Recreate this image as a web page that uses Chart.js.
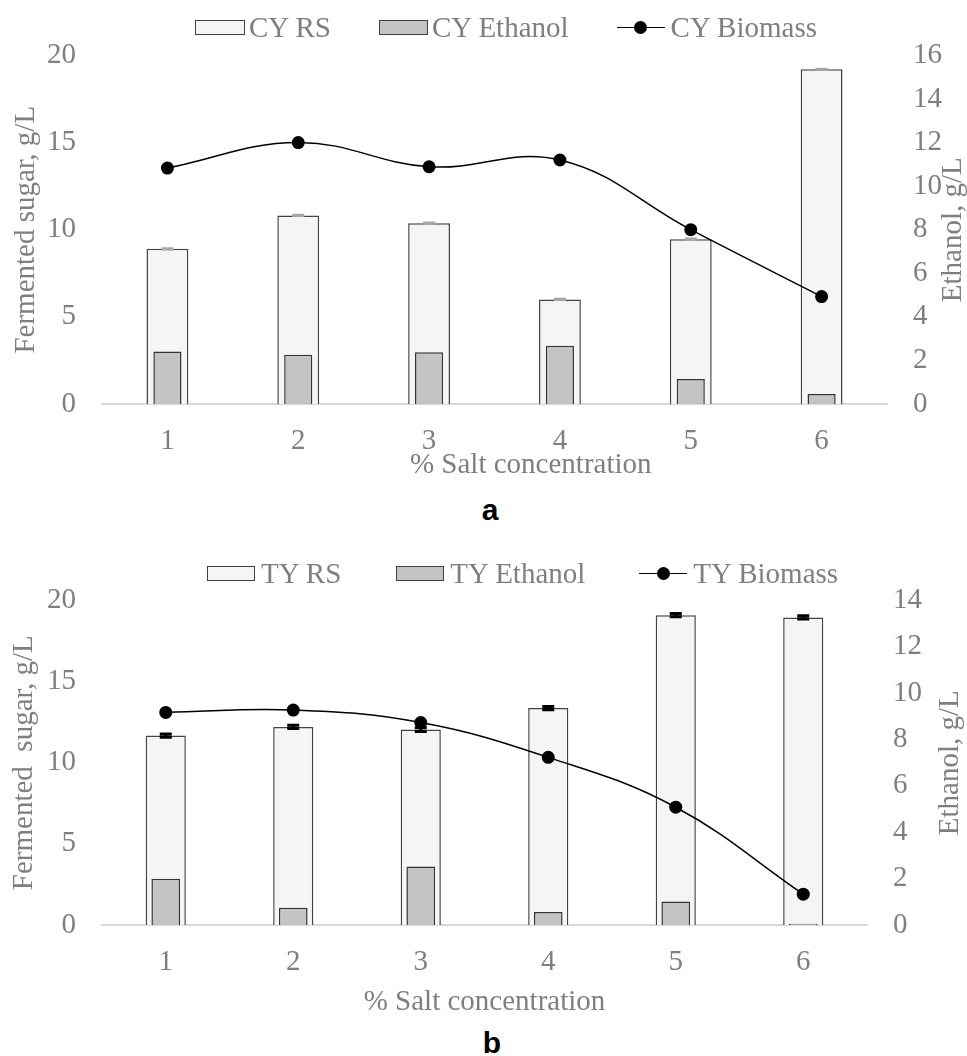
<!DOCTYPE html>
<html>
<head>
<meta charset="utf-8">
<script src="https://cdn.jsdelivr.net/npm/chart.js@4.4.1/dist/chart.umd.min.js"></script>
<style>
  html, body { margin: 0; padding: 0; background: #fff; }
  body { position: relative; width: 967px; height: 1056px; overflow: hidden;
         font-family: "Liberation Serif", "Times New Roman", Times, "DejaVu Serif", serif; }
  canvas { position: absolute; left: 0; }
  #chart-a { top: 12px; }
  #chart-b { top: 557px; }
  .legend { position: absolute; display: flex; align-items: center; height: 34px;
            font-size: 29px; color: #7f7f7f; white-space: pre; z-index: 2; }
  .legend .item { display: flex; align-items: center; }
  .legend .sw { box-sizing: border-box; height: 15px; border: 1.5px solid #404040; }
  .legend .ln { position: relative; height: 15px; }
  .legend .ln::before { content: ''; position: absolute; left: 0; right: 0; top: 7px;
                        height: 1.5px; background: #000; }
  .legend .ln::after { content: ''; position: absolute; left: 50%; top: 1px; width: 13px;
                       height: 13px; margin-left: -6.5px; border-radius: 50%; background: #000; }
  .tag { position: absolute; font: bold 30px "Liberation Sans", Arial, sans-serif;
         color: #000; transform: translate(-50%, -50%); }
</style>
</head>
<body>
<canvas id="chart-a" width="967" height="468"></canvas>
<div class="legend" id="legend-a" style="left:195px; top:10px;">
  <div class="item" style="margin-right:48px"><div class="sw" style="width:50px; background:#f4f6f5"></div><span style="margin-left:4px">CY RS</span></div>
  <div class="item" style="margin-right:48px"><div class="sw" style="width:49px; background:#c4c4c4"></div><span style="margin-left:4px">CY Ethanol</span></div>
  <div class="item"><div class="ln" style="width:48px"></div><span style="margin-left:6px">CY Biomass</span></div>
</div>
<div class="tag" style="left:490px; top:510px;">a</div>

<canvas id="chart-b" width="967" height="460"></canvas>
<div class="legend" id="legend-b" style="left:207px; top:556px;">
  <div class="item" style="margin-right:55px"><div class="sw" style="width:48px; background:#f4f6f5"></div><span style="margin-left:6px">TY RS</span></div>
  <div class="item" style="margin-right:54px"><div class="sw" style="width:48px; background:#c4c4c4"></div><span style="margin-left:6px">TY Ethanol</span></div>
  <div class="item"><div class="ln" style="width:48px"></div><span style="margin-left:6px">TY Biomass</span></div>
</div>
<div class="tag" style="left:492px; top:1043px;">b</div>

<script>
// x categories (% salt)
const saltLevels = ['1', '2', '3', '4', '5', '6'];

// panel a (CY)
const cyRS        = [8.9, 10.82, 10.37, 6.0, 9.45, 19.2];
const cyRSErr     = [0.04, 0.04, 0.04, 0.04, 0.04, 0.04];
const cyEthanol   = [2.41, 2.26, 2.38, 2.67, 1.15, 0.46];
const cyBiomass   = [10.83, 12.0, 10.89, 11.2, 8.0, 4.93];

// panel b (TY)
const tyRS        = [11.67, 12.2, 12.04, 13.37, 19.09, 18.95];
const tyRSErr     = [0.1, 0.1, 0.12, 0.1, 0.1, 0.1];
const tyEthanol   = [2.0, 0.74, 2.52, 0.56, 1.01, 0.05];
const tyBiomass   = [9.17, 9.27, 8.73, 7.23, 5.08, 1.33];

// axis ranges / ticks
const leftTicks   = { min: 0, max: 20, step: 5 };
const rightTicksA = { min: 0, max: 16, step: 2 };
const rightTicksB = { min: 0, max: 14, step: 2 };

const GREY  = '#7f7f7f';
const SERIF = '"Liberation Serif", "Times New Roman", Times, "DejaVu Serif", serif';

// error bars drawn right after the RS bars
const errorBars = {
  id: 'errorBars',
  afterDatasetDraw(chart, args, opts) {
    if (args.index !== 0 || !opts.errors) return;
    const ctx   = chart.ctx;
    const scale = chart.scales.y;
    const vals  = chart.data.datasets[0].data;
    ctx.save();
    ctx.strokeStyle = opts.color;
    ctx.lineWidth   = opts.width;
    args.meta.data.forEach((bar, i) => {
      const hi = scale.getPixelForValue(vals[i] + opts.errors[i]);
      const lo = scale.getPixelForValue(vals[i] - opts.errors[i]);
      ctx.beginPath();
      ctx.moveTo(bar.x, hi);            ctx.lineTo(bar.x, lo);
      ctx.moveTo(bar.x - opts.cap, hi); ctx.lineTo(bar.x + opts.cap, hi);
      ctx.moveTo(bar.x - opts.cap, lo); ctx.lineTo(bar.x + opts.cap, lo);
      ctx.stroke();
    });
    ctx.restore();
  }
};

// right axis title reads bottom-to-top like the Excel original
const rightTitle = {
  id: 'rightTitle',
  afterDraw(chart, args, opts) {
    const { ctx, chartArea } = chart;
    ctx.save();
    ctx.translate(opts.x, (chartArea.top + chartArea.bottom) / 2);
    ctx.rotate(-Math.PI / 2);
    ctx.font = '29px ' + SERIF;
    ctx.fillStyle = GREY;
    ctx.textAlign = 'center';
    ctx.textBaseline = 'middle';
    ctx.fillText(opts.text, 0, 0);
    ctx.restore();
  }
};

function makeChart(id, p) {
  const ctx = document.getElementById(id).getContext('2d');
  return new Chart(ctx, {
    type: 'bar',
    data: {
      labels: saltLevels,
      datasets: [
        {
          label: p.names[0],
          data: p.rs,
          yAxisID: 'y',
          grouped: false,
          order: 2,
          backgroundColor: '#f4f6f5',
          borderColor: '#444',
          borderWidth: 1.5,
          categoryPercentage: 1,
          barPercentage: p.rsWidth,
        },
        {
          label: p.names[1],
          data: p.eth,
          yAxisID: 'y1',
          grouped: false,
          order: 1,
          backgroundColor: '#c4c4c4',
          borderColor: '#333',
          borderWidth: 1.5,
          categoryPercentage: 1,
          barPercentage: p.ethWidth,
        },
        {
          type: 'line',
          label: p.names[2],
          data: p.bio,
          yAxisID: 'y1',
          order: 0,
          borderColor: '#000',
          borderWidth: 1.5,
          tension: 0.4,
          pointRadius: 6.5,
          pointBackgroundColor: '#000',
          pointBorderWidth: 0,
        },
      ],
    },
    options: {
      responsive: false,
      animation: false,
      layout: { padding: 0 },
      plugins: {
        legend:  { display: false },
        tooltip: { enabled: false },
        errorBars: p.err,
        rightTitle: { text: 'Ethanol, g/L', x: p.y1TitleX },
      },
      scales: {
        x: {
          grid:   { display: false, drawTicks: false },
          border: { display: true, color: '#d9d9d9', width: 2 },
          ticks:  { color: GREY, padding: 20, font: { family: SERIF, size: 29 } },
          title:  {
            display: true, text: p.xTitle, color: GREY,
            padding: 0, font: { family: SERIF, size: 29, lineHeight: 1.0 },
          },
          afterFit: s => { s.height = p.xHeight; },
        },
        y: {
          position: 'left',
          min: leftTicks.min, max: leftTicks.max,
          grid:   { display: false, drawTicks: false },
          border: { display: false },
          ticks:  { stepSize: leftTicks.step, color: GREY, padding: 26, font: { family: SERIF, size: 29 } },
          title:  {
            display: true, text: p.yTitle, color: GREY,
            padding: { top: p.yTitlePad, bottom: 0 }, font: { family: SERIF, size: 29, lineHeight: 1.0 },
          },
          afterFit: s => { s.width = 102; },
        },
        y1: {
          position: 'right',
          min: p.right.min, max: p.right.max,
          grid:   { display: false, drawTicks: false },
          border: { display: false },
          ticks:  { stepSize: p.right.step, color: GREY, padding: 26, font: { family: SERIF, size: 29 } },
          afterFit: s => { s.width = p.rightWidth; },
        },
      },
    },
    plugins: [errorBars, rightTitle],
  });
}

makeChart('chart-a', {
  names: ['CY RS', 'CY Ethanol', 'CY Biomass'],
  rs: cyRS, eth: cyEthanol, bio: cyBiomass,
  err: { errors: cyRSErr, color: '#a6a6a6', width: 2, cap: 6 },
  rsWidth: 0.32, ethWidth: 0.215,
  right: rightTicksA,
  xTitle: '\u2002\u2002\u2002\u2002\u2002% Salt concentration',
  yTitle: 'Fermented sugar, g/L',
  xHeight: 76, rightWidth: 80, yTitlePad: 12, y1TitleX: 953,
});

makeChart('chart-b', {
  names: ['TY RS', 'TY Ethanol', 'TY Biomass'],
  rs: tyRS, eth: tyEthanol, bio: tyBiomass,
  err: { errors: tyRSErr, color: '#000', width: 3, cap: 6 },
  rsWidth: 0.315, ethWidth: 0.225,
  right: rightTicksB,
  xTitle: '% Salt concentration',
  yTitle: 'Fermented  sugar, g/L',
  xHeight: 92, rightWidth: 100, yTitlePad: 10, y1TitleX: 950,
});
</script>
</body>
</html>
